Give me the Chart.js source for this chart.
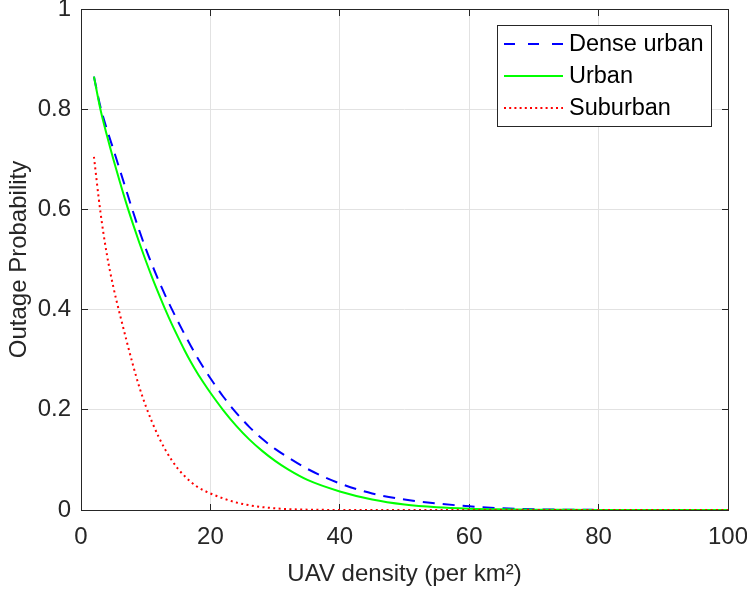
<!DOCTYPE html>
<html><head><meta charset="utf-8">
<script src="https://cdn.jsdelivr.net/npm/chart.js@4.4.1/dist/chart.umd.min.js"></script>
<style>html,body{margin:0;padding:0;background:#fff;overflow:hidden}#wrap{width:747px;height:592px;position:relative}</style>
</head><body><div id="wrap"><canvas id="c"></canvas></div>
<script>
const densityX = [2,3,4,5,6,7,8,9,10,11,12,13,14,15,16,17,18,19,20,22,24,26,28,30,32,35,40,45,50,55,60,65,70,75,80,90,100];
const denseUrban = [0.865,0.805,0.760,0.720,0.679,0.638,0.597,0.558,0.522,0.489,0.458,0.429,0.402,0.376,0.351,0.327,0.304,0.283,0.263,0.226,0.194,0.166,0.142,0.122,0.105,0.082,0.053,0.033,0.021,0.013,0.0075,0.0035,0.0015,0.0006,0.0002,0,0];
const urban = [0.865,0.800,0.748,0.700,0.655,0.612,0.572,0.534,0.498,0.464,0.432,0.401,0.372,0.345,0.319,0.295,0.273,0.253,0.234,0.199,0.168,0.141,0.118,0.098,0.081,0.060,0.037,0.021,0.011,0.0055,0.0027,0.0013,0.0006,0.0003,0.0001,0,0];
const suburban = [0.705,0.595,0.510,0.445,0.391,0.340,0.291,0.246,0.208,0.175,0.146,0.121,0.100,0.082,0.068,0.056,0.046,0.039,0.033,0.023,0.015,0.0095,0.0058,0.0034,0.0018,0.0007,0.0001,0,0,0,0,0,0,0,0,0,0];
const seriesLabels = ['Dense urban','Urban','Suburban'];
const xTitle = 'UAV density (per km\u00B2)';
const yTitle = 'Outage Probability';

const FONT = "'Liberation Sans', Arial, Helvetica, sans-serif";
const toPts = arr => densityX.map((x,i)=>({x:x,y:arr[i]}));

const frame = {
  id:'frame',
  beforeDatasetsDraw(chart){
    const {ctx, scales:{x,y}} = chart;
    const al = p => Math.round(p - 0.5) + 0.5;
    const L = al(x.getPixelForValue(0)), R = al(x.getPixelForValue(100));
    const B = al(y.getPixelForValue(0)), T = al(y.getPixelForValue(1));
    ctx.save();
    ctx.strokeStyle = '#262626'; ctx.lineWidth = 1;
    ctx.beginPath();
    x.ticks.forEach(t=>{const p=al(x.getPixelForValue(t.value)); ctx.moveTo(p,B); ctx.lineTo(p,B-6.5); ctx.moveTo(p,T); ctx.lineTo(p,T+6.5);});
    y.ticks.forEach(t=>{const p=al(y.getPixelForValue(t.value)); ctx.moveTo(L,p); ctx.lineTo(L+6.5,p); ctx.moveTo(R,p); ctx.lineTo(R-6.5,p);});
    ctx.stroke();
    ctx.strokeRect(L, T, R-L, B-T);
    ctx.restore();
  }
};

const legendBox = {
  id:'legendBox',
  afterDraw(chart){
    const ctx = chart.ctx;
    ctx.save();
    ctx.fillStyle = '#fff';
    ctx.fillRect(497.5, 25.5, 214, 101);
    ctx.strokeStyle = '#262626'; ctx.lineWidth = 1;
    ctx.strokeRect(497.5, 25.5, 214, 101);
    chart.data.datasets.forEach((ds,i)=>{
      const yc = 44 + i*32;
      ctx.strokeStyle = ds.borderColor; ctx.lineWidth = ds.borderWidth;
      ctx.setLineDash(ds.legendDash || []);
      ctx.beginPath(); ctx.moveTo(504, yc); ctx.lineTo(563, yc); ctx.stroke();
      ctx.setLineDash([]);
      ctx.fillStyle = '#000';
      ctx.font = '23.5px ' + FONT;
      ctx.textBaseline = 'middle'; ctx.textAlign = 'left';
      ctx.fillText(ds.label, 569, yc+1);
    });
    ctx.restore();
  }
};

new Chart(document.getElementById('c'), {
  type:'line',
  data:{datasets:[
    {label:seriesLabels[0], data:toPts(denseUrban), borderColor:'#0000ff', borderWidth:2, borderDash:[12,8], legendDash:[11,13], order:3},
    {label:seriesLabels[1], data:toPts(urban), borderColor:'#00ff00', borderWidth:2, order:2},
    {label:seriesLabels[2], data:toPts(suburban), borderColor:'#ff0000', borderWidth:2, borderDash:[2,3.4], legendDash:[2,3.2], order:1}
  ]},
  options:{
    responsive:true, maintainAspectRatio:false, animation:false,
    devicePixelRatio:1,
    layout:{padding:{left:0, right:19, top:9, bottom:0}},
    elements:{point:{radius:0}, line:{cubicInterpolationMode:'monotone', fill:false}},
    plugins:{legend:{display:false}, tooltip:{enabled:false}},
    scales:{
      x:{type:'linear', min:0, max:100,
        ticks:{stepSize:20, padding:13, color:'#262626', font:{size:24, family:FONT}, maxRotation:0},
        grid:{color:'#e2e2e2', lineWidth:1, drawTicks:false},
        border:{display:false},
        title:{display:true, text:xTitle, color:'#262626', font:{size:24, family:FONT}, padding:{top:0,bottom:3}},
        afterFit(s){ s.height = 82; s.paddingLeft = 0; s.paddingRight = 0; }
      },
      y:{type:'linear', min:0, max:1,
        ticks:{stepSize:0.2, padding:10, color:'#262626', font:{size:24, family:FONT}, callback:v=>String(+v.toFixed(1))},
        grid:{color:'#e2e2e2', lineWidth:1, drawTicks:false},
        border:{display:false},
        title:{display:true, text:yTitle, color:'#262626', font:{size:24, family:FONT}, padding:{top:5,bottom:0}},
        afterFit(s){ s.width = 81; s.paddingTop = 0; s.paddingBottom = 0; }
      }
    }
  },
  plugins:[frame, legendBox]
});
</script></body></html>
